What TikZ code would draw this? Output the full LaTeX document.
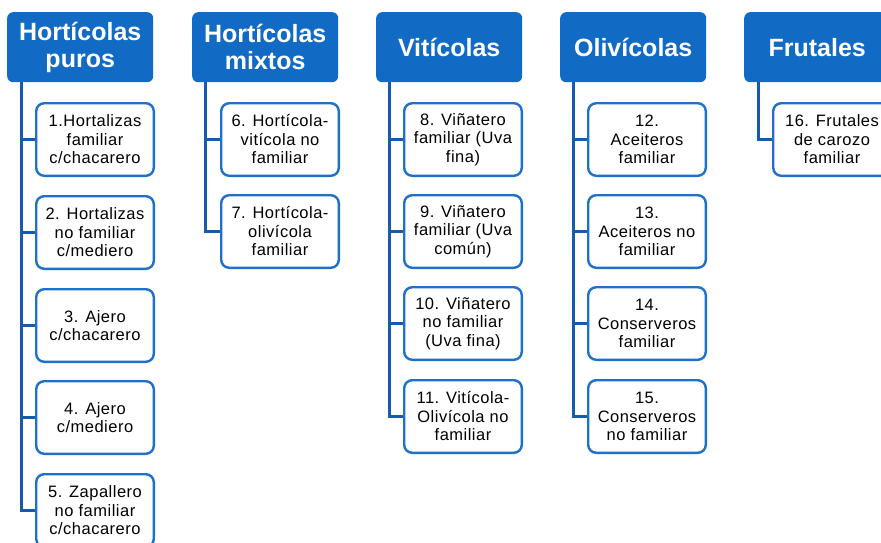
\documentclass[tikz,border=0pt]{standalone}
\usepackage{fontspec}
\setmainfont{Liberation Sans}
\newfontfamily\leaffont[LetterSpace=3]{Liberation Sans}
\definecolor{hblue}{RGB}{17,106,196}
\definecolor{bblue}{RGB}{31,112,200}
\definecolor{lblue}{RGB}{22,92,170}
\tikzset{
  hdr/.style={fill=hblue, rounded corners=6pt, minimum width=146pt, minimum height=70pt,
    text=white, font=\bfseries\fontsize{25}{27}\selectfont, align=center, inner sep=0pt, anchor=north west},
  leaf/.style={draw=bblue, line width=2.4pt, fill=white, rounded corners=8pt,
    minimum width=117.6pt, minimum height=72.6pt, inner sep=0pt, align=center,
    font=\leaffont\fontsize{16.5}{18.5}\selectfont},
  conn/.style={draw=lblue, line width=3pt}
}
\begin{document}
\begin{tikzpicture}[x=1pt,y=-1pt]
\useasboundingbox (0,0) rectangle (881,543);
\clip (0,0) rectangle (881,543);
% headers
\node[hdr] (h1) at (7,12) {Hortícolas\\puros};
\node[hdr] (h2) at (192,12) {Hortícolas\\mixtos};
\node[hdr] (h3) at (376,12) {Vitícolas};
\node[hdr] (h4) at (560,12) {Olivícolas};
\node[hdr] (h5) at (744,12) {Frutales};
% column 1
\node[leaf] (c1) at (95,139.5) {1.Hortalizas\\familiar\\c/chacarero};
\node[leaf] (c2) at (95,232.5) {2. Hortalizas\\no familiar\\c/mediero};
\node[leaf] (c3) at (95,325.5) {3. Ajero\\c/chacarero};
\node[leaf] (c4) at (95,417.5) {4. Ajero\\c/mediero};
\node[leaf] (c5) at (95,510.5) {5. Zapallero\\no familiar\\c/chacarero};
% column 2
\node[leaf] (c6) at (280,139.5) {6. Hortícola-\\vitícola no\\familiar};
\node[leaf] (c7) at (280,231.5) {7. Hortícola-\\olivícola\\familiar};
% column 3
\node[leaf] (c8) at (463,139.5) {8. Viñatero\\familiar (Uva\\fina)};
\node[leaf] (c9) at (463,231.5) {9. Viñatero\\familiar (Uva\\común)};
\node[leaf] (c10) at (463,323.5) {10. Viñatero\\no familiar\\(Uva fina)};
\node[leaf] (c11) at (463,416.5) {11. Vitícola-\\Olivícola no\\familiar};
% column 4
\node[leaf] (c12) at (647,139.5) {12.\\Aceiteros\\familiar};
\node[leaf] (c13) at (647,231.5) {13.\\Aceiteros no\\familiar};
\node[leaf] (c14) at (647,323.5) {14.\\Conserveros\\familiar};
\node[leaf] (c15) at (647,416.5) {15.\\Conserveros\\no familiar};
% column 5
\node[leaf] (c16) at (832,139.5) {16. Frutales\\de carozo\\familiar};
% connectors
\foreach \c in {c1,c2,c3,c4,c5} \draw[conn] ([xshift=14pt]h1.south west) |- (\c.west);
\foreach \c in {c6,c7} \draw[conn] ([xshift=13pt]h2.south west) |- (\c.west);
\foreach \c in {c8,c9,c10,c11} \draw[conn] ([xshift=13pt]h3.south west) |- (\c.west);
\foreach \c in {c12,c13,c14,c15} \draw[conn] ([xshift=13pt]h4.south west) |- (\c.west);
\draw[conn] ([xshift=14pt]h5.south west) |- (c16.west);
\end{tikzpicture}
\end{document}
